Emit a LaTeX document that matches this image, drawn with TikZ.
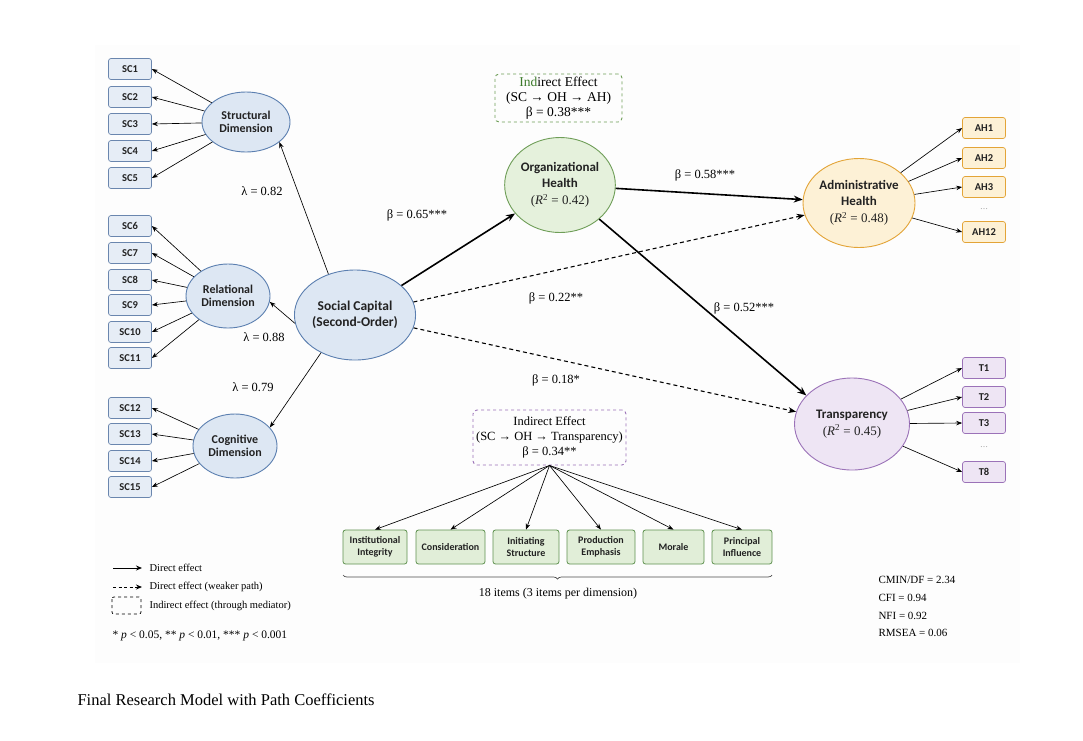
\documentclass[tikz,border=0pt]{standalone}
\usepackage{fontspec}
\setmainfont{Liberation Serif}
\newfontfamily\carl{Carlito}
\usetikzlibrary{shapes.geometric,arrows.meta,decorations.pathreplacing}
\newcommand\fsz[2]{\fontsize{#1}{#2}\selectfont}
\newcommand\rsq{\rmfamily\mdseries\fsz{13}{15}}
\definecolor{bgc}{HTML}{FDFDFD}
\definecolor{scfill}{HTML}{E6EDF6}
\definecolor{scbd}{HTML}{6A86AE}
\definecolor{blfill}{HTML}{DDE7F3}
\definecolor{blbd}{HTML}{5B7FB0}
\definecolor{gnfill}{HTML}{E5F1DC}
\definecolor{gnbd}{HTML}{6F9E58}
\definecolor{bxfill}{HTML}{E1EED8}
\definecolor{bxbd}{HTML}{5F9150}
\definecolor{orfill}{HTML}{FDF1D6}
\definecolor{orbd}{HTML}{E3A437}
\definecolor{pufill}{HTML}{EEE5F4}
\definecolor{pubd}{HTML}{9B72B8}
\definecolor{indgreen}{HTML}{3C7A2A}
\definecolor{txt}{HTML}{222222}
\tikzset{
  indbox/.style={draw=#1, rounded corners=2.5pt, minimum width=43pt, minimum height=21pt, inner sep=0pt, font=\carl\bfseries\fsz{10.5}{12}, line width=0.7pt, text=txt},
  latent/.style={ellipse, draw=blbd, fill=blfill, line width=0.9pt, inner sep=0pt, align=center, text=txt},
  dimbox/.style={draw=bxbd, fill=bxfill, rounded corners=2.5pt, minimum height=34pt, inner sep=0pt, align=center, font=\carl\bfseries\fsz{10}{11.5}, line width=0.8pt, text=txt},
  thin/.style={-{Stealth[length=6pt,width=4.5pt]}, line width=0.65pt},
  mainarr/.style={-{Stealth[length=9pt,width=7pt]}, line width=1.6pt},
  weak/.style={-{Stealth[length=8pt,width=6pt]}, line width=1.1pt, dash pattern=on 4pt off 3pt},
  lab/.style={font=\fsz{12.5}{14}},
  indirect/.style={draw=#1, dashed, rounded corners=4pt, line width=0.9pt, align=center, inner sep=0pt},
  small/.style={font=\fsz{10.5}{12}, anchor=west},
}
\begin{document}
\begin{tikzpicture}[x=1pt,y=-1pt]
\useasboundingbox (0,0) rectangle (1083,740);
\fill[bgc] (95,45) rectangle (1020,663);

% indicators SC
\foreach \i/\y in {1/69,2/97,3/124,4/151,5/178,6/226,7/253,8/280,9/305,10/332,11/358,12/408,13/434,14/461,15/487}
  \node[indbox=scbd, fill=scfill] (sc\i) at (130,\y) {SC\i};

% latent dimensions
\node[latent, minimum width=88pt, minimum height=60pt, font=\carl\bfseries\fsz{12}{13.5}] (str) at (246,122) {Structural\\Dimension};
\node[latent, minimum width=84pt, minimum height=64pt, font=\carl\bfseries\fsz{12}{13.5}] (rel) at (228,296) {Relational\\Dimension};
\node[latent, minimum width=84pt, minimum height=64pt, font=\carl\bfseries\fsz{12}{13.5}] (cog) at (235,446) {Cognitive\\Dimension};
\node[latent, minimum width=110pt, minimum height=90pt, font=\carl\bfseries\fsz{13.5}{16}] (scap) at (355,315) {Social Capital\\(Second-Order)};

\node[latent, draw=gnbd, fill=gnfill, minimum width=110pt, minimum height=95pt, font=\carl\bfseries\fsz{13}{16}] (oh) at (560,185)
  {Organizational\\Health\\[1pt]\rsq(\textit{R}\textsuperscript{2} = 0.42)};
\node[latent, draw=orbd, fill=orfill, minimum width=112pt, minimum height=89pt, font=\carl\bfseries\fsz{13}{16}] (ah) at (859,203)
  {Administrative\\Health\\[1pt]\rsq(\textit{R}\textsuperscript{2} = 0.48)};
\node[latent, draw=pubd, fill=pufill, minimum width=115pt, minimum height=92pt, font=\carl\bfseries\fsz{13}{16}] (tr) at (852,424)
  {Transparency\\[1pt]\rsq(\textit{R}\textsuperscript{2} = 0.45)};

% AH indicators
\foreach \n/\y in {AH1/128,AH2/158,AH3/187,AH12/232}
  \node[indbox=orbd, fill=orfill] (\n) at (984,\y) {\n};
\node[font=\fsz{8}{9}, text=gray] (ahdots) at (984,209) {\dots};
\foreach \n/\y in {T1/368,T2/397,T3/423,T8/472}
  \node[indbox=pubd, fill=pufill] (\n) at (984,\y) {\n};
\node[font=\fsz{8}{9}, text=gray] (tdots) at (984,447) {\dots};

% indirect boxes
\node[indirect=gnbd, minimum width=127pt, minimum height=48pt, font=\fsz{13.5}{15}] (ind1) at (558.5,98)
  {\textcolor{indgreen}{Ind}irect Effect\\(SC → OH → AH)\\β = 0.38***};
\node[indirect=pubd, minimum width=153pt, minimum height=55pt, font=\fsz{12.5}{15}] (ind2) at (549.5,437.5)
  {Indirect Effect\\(SC → OH → Transparency)\\β = 0.34**};

% OH dimension boxes
\node[dimbox, minimum width=64pt] (b1) at (375,547) {Institutional\\Integrity};
\node[dimbox, minimum width=69pt] (b2) at (450.5,547) {Consideration};
\node[dimbox, minimum width=66pt] (b3) at (526,547) {Initiating\\Structure};
\node[dimbox, minimum width=68pt] (b4) at (601,547) {Production\\Emphasis};
\node[dimbox, minimum width=61pt] (b5) at (673.5,547) {Morale};
\node[dimbox, minimum width=60pt] (b6) at (742,547) {Principal\\Influence};

% measurement arrows
\foreach \i in {1,...,5} \draw[thin] (str) -- (sc\i.east);
\foreach \i in {6,...,11} \draw[thin] (rel) -- (sc\i.east);
\foreach \i in {12,...,15} \draw[thin] (cog) -- (sc\i.east);
\foreach \n in {AH1,AH2,AH3,AH12} \draw[thin] (ah) -- (\n.west);
\foreach \n in {T1,T2,T3,T8} \draw[thin] (tr) -- (\n.west);
\foreach \b in {b1,b2,b3,b4,b5,b6} \draw[thin] (ind2.south) -- (\b.north);

% second-order loadings
\draw[thin] (scap.123) -- (str.-31);
\draw[thin] (scap.188) -- (rel.-8);
\draw[thin] (scap.228) -- (cog.28);

% structural paths
\draw[mainarr] (scap) -- (oh);
\draw[mainarr] (oh) -- (ah);
\draw[mainarr] (oh.-41) -- (tr.148);
\draw[weak] (scap) -- (ah);
\draw[weak] (scap) -- (tr);

% labels
\node[lab] (l1) at (262,191) {λ = 0.82};
\node[lab] (l2) at (264,337) {λ = 0.88};
\node[lab] (l3) at (253,387) {λ = 0.79};
\node[lab] (p1) at (417,215) {β = 0.65***};
\node[lab] (p2) at (705,175) {β = 0.58***};
\node[lab] (p3) at (556,298) {β = 0.22**};
\node[lab] (p4) at (744,308) {β = 0.52***};
\node[lab] (p5) at (556,380) {β = 0.18*};

% brace
\coordinate (brL) at (343,575);
\coordinate (brR) at (772,575);
\draw[decorate, decoration={brace, mirror, amplitude=4pt}, line width=0.7pt, draw=black!70] (brL) -- (brR);
\node[font=\fsz{12}{13}] (brtxt) at (558,594) {18 items (3 items per dimension)};

% legend
\coordinate (lg1a) at (113,568); \coordinate (lg1b) at (142,568);
\draw[-{Stealth[length=6pt,width=5pt]}, line width=1pt] (lg1a) -- (lg1b);
\node[small] (lt1) at (146,568) {Direct effect};
\coordinate (lg2a) at (113,587); \coordinate (lg2b) at (142,587);
\draw[-{Stealth[length=6pt,width=5pt]}, line width=0.9pt, dash pattern=on 3pt off 2.5pt] (lg2a) -- (lg2b);
\node[small] (lt2) at (146,587) {Direct effect (weaker path)};
\draw[dashed, line width=0.7pt, rounded corners=2pt] (112,597) rectangle (141,614);
\node[small] (lt3) at (146,605.5) {Indirect effect (through mediator)};
\node[font=\fsz{11.5}{13}, anchor=west] (lt4) at (109,636) {* \textit{p} < 0.05, ** \textit{p} < 0.01, *** \textit{p} < 0.001};

% fit indices
\node[font=\fsz{11}{13}, anchor=west] (f1) at (875,580) {CMIN/DF = 2.34};
\node[font=\fsz{11}{13}, anchor=west] (f2) at (875,598) {CFI = 0.94};
\node[font=\fsz{11}{13}, anchor=west] (f3) at (875,616) {NFI = 0.92};
\node[font=\fsz{11}{13}, anchor=west] (f4) at (875,633) {RMSEA = 0.06};

% caption
\node[font=\fsz{16.5}{19}, anchor=west] (cap) at (74,700) {Final Research Model with Path Coefficients};
\end{tikzpicture}
\end{document}
